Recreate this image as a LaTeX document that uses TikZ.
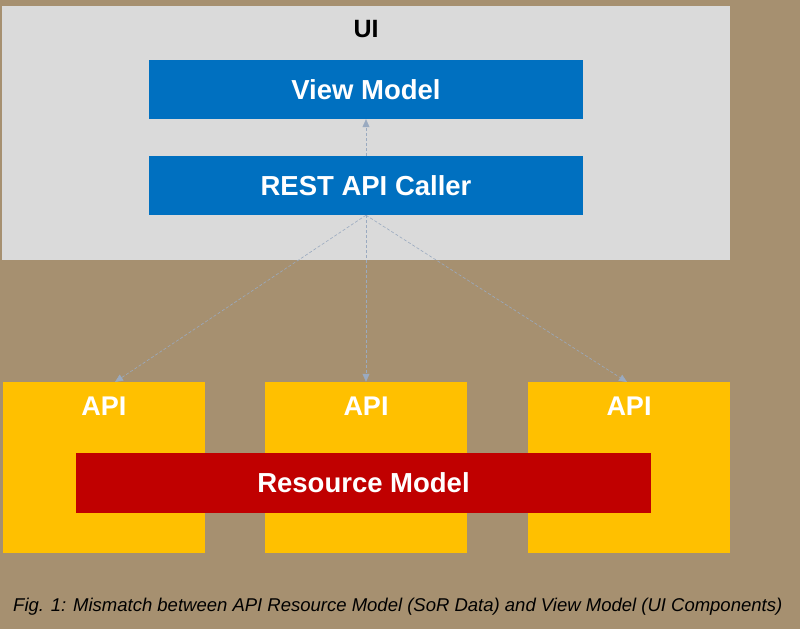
\documentclass[tikz,border=0pt]{standalone}
\usepackage{fontspec}
\setmainfont{Liberation Sans}
\usetikzlibrary{arrows.meta}
\definecolor{bgtan}{HTML}{A69070}
\definecolor{uigray}{HTML}{DADADA}
\definecolor{vmblue}{HTML}{0070C0}
\definecolor{apiyellow}{HTML}{FFC000}
\definecolor{resred}{HTML}{C00000}
\definecolor{arrowgray}{HTML}{9AAAC0}
\tikzset{
  x=1pt,y=-1pt,
  bluebox/.style={fill=vmblue,draw=none,minimum width=434pt,minimum height=59pt,inner sep=0pt,
    text=white,font=\fontsize{27.5}{32}\selectfont\bfseries},
  apibox/.style={fill=apiyellow,draw=none,minimum width=202pt,minimum height=171pt,inner sep=0pt},
  apilabel/.style={text=white,font=\fontsize{27}{32}\selectfont\bfseries,inner sep=0pt},
  conn/.style={draw=arrowgray,densely dashed,line width=0.6pt,-{Triangle[width=7pt,length=8pt]}},
}
\begin{document}
\begin{tikzpicture}
\fill[bgtan] (0,0) rectangle (800,629);
\useasboundingbox (0,0) rectangle (800,629);
% UI container
\node[fill=uigray,draw=none,minimum width=728pt,minimum height=254pt,inner sep=0pt] (ui) at (366,133) {};
\node[font=\fontsize{25}{30}\selectfont\bfseries,inner sep=0pt] (uilabel) at (366,29) {UI};
\node[bluebox] (vm) at (366,89.5) {View Model};
\node[bluebox] (rest) at (366,185.5) {REST API Caller};
% API boxes
\node[apibox] (api1) at (104,467.5) {};
\node[apibox] (api2) at (366,467.5) {};
\node[apibox] (api3) at (629,467.5) {};
\node[apilabel] (apil1) at (104,406) {API};
\node[apilabel] (apil2) at (366,406) {API};
\node[apilabel] (apil3) at (629,406) {API};
\node[fill=resred,draw=none,minimum width=575pt,minimum height=60pt,inner sep=0pt,
  text=white,font=\fontsize{27.5}{32}\selectfont\bfseries] (res) at (363.5,483) {Resource Model};
% connectors
\draw[conn] (rest.north) -- (vm.south);
\coordinate (t1) at (115,382);
\coordinate (t3) at (627,382);
\draw[conn] (rest.south) -- (t1);
\draw[conn] (rest.south) -- (api2.north);
\draw[conn] (rest.south) -- (t3);
% caption
\node[font=\fontsize{18.5}{22}\selectfont\itshape,inner sep=0pt,anchor=west] (cap) at (13,607)
  {Fig. 1: Mismatch between API Resource Model (SoR Data) and View Model (UI Components)};
\end{tikzpicture}
\end{document}
